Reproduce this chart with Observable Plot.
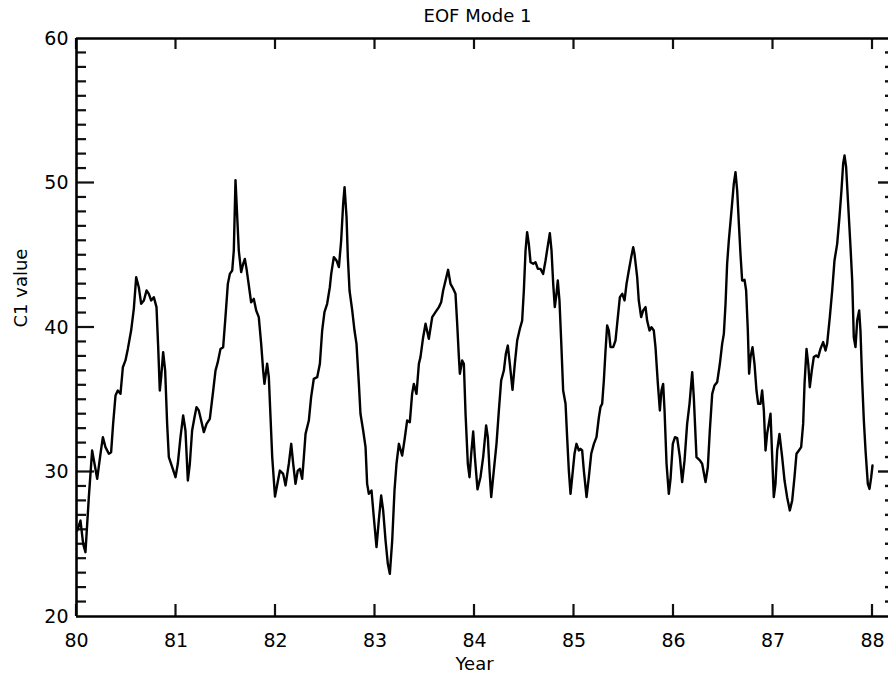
<!DOCTYPE html>
<html><head><meta charset="utf-8">
<script src="https://cdn.jsdelivr.net/npm/d3@7"></script>
<script src="https://cdn.jsdelivr.net/npm/@observablehq/plot@0.6"></script>
<style>body{margin:0;background:#fff;} svg{display:block;} svg text{font-family:"DejaVu Sans",sans-serif;}</style>
</head><body><div id="chart"></div>
<script>
const years = [
80.007,80.040,80.067,80.090,80.124,80.157,80.181,80.208,80.241,80.265,80.291,80.325,80.348,80.368,80.392,80.415,80.442,80.466,80.492,80.516,80.549,80.576,80.600,80.626,80.650,80.677,80.704,80.727,80.750,80.777,80.804,80.821,80.837,80.851,80.871,80.891,80.911,80.928,80.962,80.995,
81.018,81.045,81.072,81.095,81.119,81.139,81.162,81.186,81.206,81.229,81.253,81.280,81.307,81.340,81.374,81.397,81.420,81.447,81.474,81.497,81.521,81.541,81.565,81.581,81.598,81.631,81.655,81.675,81.692,81.709,81.732,81.755,81.782,81.806,81.832,81.856,81.876,81.889,81.916,81.933,81.950,81.967,81.995,
82.044,82.077,82.101,82.134,82.158,82.178,82.201,82.224,82.245,82.268,82.285,82.302,82.335,82.358,82.385,82.419,82.446,82.469,82.492,82.519,82.546,82.560,82.586,82.613,82.637,82.660,82.680,82.694,82.714,82.727,82.744,82.771,82.794,82.814,82.838,82.854,82.881,82.905,82.921,82.938,82.965,82.988,
83.015,83.038,83.062,83.082,83.106,83.129,83.149,83.173,83.196,83.216,83.240,83.273,83.296,83.323,83.350,83.373,83.390,83.417,83.441,83.457,83.484,83.508,83.541,83.575,83.608,83.642,83.665,83.685,83.709,83.735,83.759,83.786,83.809,83.826,83.843,83.853,83.876,83.893,83.910,83.933,83.950,83.967,83.987,
84.003,84.030,84.060,84.087,84.117,84.134,84.151,84.168,84.194,84.221,84.245,84.268,84.295,84.315,84.335,84.355,84.382,84.405,84.429,84.456,84.479,84.496,84.513,84.529,84.546,84.563,84.590,84.613,84.637,84.663,84.690,84.714,84.737,84.757,84.774,84.791,84.807,84.824,84.837,84.854,84.871,84.891,84.915,84.931,84.948,84.965,84.982,
85.005,85.025,85.049,85.065,85.082,85.099,85.126,85.149,85.173,85.200,85.226,85.250,85.266,85.283,85.300,85.317,85.333,85.350,85.367,85.394,85.417,85.434,85.461,85.485,85.508,85.528,85.551,85.575,85.595,85.608,85.635,85.651,85.675,85.695,85.719,85.735,85.759,85.779,85.802,85.819,85.843,85.863,85.879,85.896,85.910,85.930,85.953,85.970,85.993,
86.015,86.037,86.064,86.087,86.111,86.137,86.161,86.188,86.204,86.231,86.265,86.288,86.322,86.345,86.365,86.389,86.412,86.439,86.466,86.489,86.506,86.523,86.539,86.556,86.580,86.606,86.623,86.640,86.657,86.673,86.690,86.714,86.730,86.747,86.760,86.774,86.794,86.814,86.834,86.851,86.874,86.891,86.908,86.925,86.941,86.958,86.975,86.992,
87.008,87.025,87.042,87.065,87.092,87.116,87.142,87.169,87.193,87.216,87.236,87.260,87.283,87.303,87.317,87.337,87.354,87.370,87.390,87.410,87.434,87.454,87.477,87.504,87.528,87.544,87.571,87.595,87.618,87.645,87.668,87.688,87.705,87.719,87.735,87.755,87.779,87.796,87.812,87.829,87.846,87.866,87.879,87.896,87.913,87.930,87.953,87.970,87.987,88.000
];
const c1 = [
25.95,26.64,25.03,24.45,28.26,31.49,30.57,29.53,31.26,32.41,31.72,31.26,31.37,33.33,35.29,35.64,35.41,37.25,37.72,38.52,39.79,41.29,43.48,42.79,41.64,41.87,42.56,42.33,41.87,42.10,41.41,38.64,35.64,36.56,38.29,37.02,33.33,31.03,30.33,29.64,
30.57,32.41,33.91,32.87,29.41,30.57,32.87,33.79,34.49,34.26,33.56,32.76,33.33,33.68,35.64,37.02,37.60,38.52,38.64,40.72,43.02,43.71,43.94,45.33,50.20,45.33,43.83,44.41,44.75,44.06,42.91,41.75,41.98,41.18,40.72,38.87,37.02,36.10,37.49,36.56,33.79,31.03,28.30,
30.10,29.87,29.07,30.57,31.95,30.57,29.18,30.10,30.22,29.53,31.03,32.64,33.56,35.18,36.45,36.56,37.49,39.79,41.06,41.64,42.79,43.71,44.87,44.64,44.18,46.02,48.56,49.71,47.64,44.87,42.56,41.18,39.79,38.87,36.10,34.03,32.87,31.72,29.18,28.49,28.72,26.87,
24.80,26.64,28.37,27.34,25.26,23.65,22.95,25.26,28.72,30.57,31.95,31.14,32.18,33.56,33.45,35.41,36.10,35.41,37.49,37.95,39.33,40.26,39.22,40.72,41.06,41.41,41.75,42.56,43.25,43.99,43.02,42.68,42.33,40.26,37.95,36.80,37.72,37.49,34.03,30.57,29.64,31.26,32.80,
31.10,28.80,29.64,31.03,33.22,32.41,30.10,28.26,30.10,31.95,34.26,36.33,37.02,38.18,38.75,37.49,35.69,37.49,39.10,39.91,40.48,42.56,45.33,46.60,45.79,44.52,44.41,44.52,44.06,44.06,43.71,44.64,45.67,46.53,45.33,43.02,41.41,42.33,43.25,41.87,39.10,35.64,34.72,32.41,30.10,28.49,29.64,
31.26,31.95,31.49,31.60,31.49,30.10,28.26,29.64,31.26,31.95,32.41,33.79,34.49,34.72,36.33,38.41,40.14,39.79,38.64,38.64,39.10,40.26,42.10,42.33,41.87,43.02,43.94,44.87,45.56,45.10,43.48,41.87,40.72,41.18,41.41,40.48,39.79,40.02,39.79,38.64,36.10,34.26,35.64,36.10,34.26,30.57,28.49,29.50,31.95,
32.41,32.35,31.03,29.30,30.80,33.33,34.72,36.91,35.18,31.03,30.80,30.57,29.30,30.33,32.87,35.41,35.99,36.22,37.49,38.87,39.56,41.64,44.41,46.02,47.87,49.94,50.75,49.48,47.18,45.10,43.25,43.30,42.56,39.79,36.80,37.95,38.64,37.49,35.64,34.72,34.72,35.64,34.26,31.49,32.64,33.33,34.03,31.03,
28.26,29.18,31.49,32.64,31.03,29.41,28.26,27.34,28.03,29.64,31.26,31.49,31.72,33.33,36.10,38.52,37.49,35.87,37.02,37.95,38.06,37.95,38.52,38.99,38.41,38.87,40.72,42.56,44.64,45.79,47.64,49.48,51.33,51.90,51.09,48.56,45.56,43.25,39.33,38.64,40.48,41.18,39.79,36.33,33.56,31.49,29.18,28.83,29.64,30.45
];
const xTicks = [80, 81, 82, 83, 84, 85, 86, 87, 88];
const yLabels = [20, 30, 40, 50, 60];
const yMajorInner = [30, 40, 50];
const yMinor = [21,22,23,24,25,26,27,28,29,31,32,33,34,35,36,37,38,39,41,42,43,44,45,46,47,48,49,51,52,53,54,55,56,57,58,59];
const titleText = ["EOF Mode 1"];
const xTitle = ["Year"];
const yTitle = ["C1 value"];

const data = years.map((t, i) => ({t, v: c1[i]}));

const W = 888, H = 674, ML = 76, MR = 0, MT = 38, MB = 58;
const FW = W - ML - MR;
const FH = H - MT - MB;
const xDom = [80, 88.1608], yDom = [20, 60];
const dxPx = (xDom[1] - xDom[0]) / FW;   // data units per pixel
const dyPx = (yDom[1] - yDom[0]) / FH;
const ink = "#111";

const chart = Plot.plot({
  width: W, height: H,
  marginLeft: ML, marginRight: MR, marginTop: MT, marginBottom: MB,
  x: {domain: xDom},
  y: {domain: yDom},
  marks: [
    Plot.axisX(xTicks, {anchor: "bottom", tickSize: 0, tickPadding: 17, label: null, tickFormat: d => String(d), fontSize: 19, fill: "black"}),
    Plot.axisY(yLabels, {anchor: "left", tickSize: 0, tickPadding: 8, label: null, tickFormat: d => String(d), fontSize: 19, fill: "black"}),
    // inward ticks drawn as small filled rectangles
    Plot.rect(yMinor, {x1: xDom[0], x2: xDom[0] + 10 * dxPx, y1: d => d - 1.1 * dyPx, y2: d => d + 1.1 * dyPx, fill: ink}),
    Plot.rect(yMajorInner, {x1: xDom[0], x2: xDom[0] + 18 * dxPx, y1: d => d - 1.1 * dyPx, y2: d => d + 1.1 * dyPx, fill: ink}),
    Plot.rect(xTicks, {x1: d => d - 1.1 * dxPx, x2: d => d + 1.1 * dxPx, y1: yDom[0], y2: yDom[0] + 12 * dyPx, fill: ink}),
    Plot.rect(xTicks, {x1: d => d - 1.1 * dxPx, x2: d => d + 1.1 * dxPx, y1: yDom[1] - 11 * dyPx, y2: yDom[1], fill: ink}),
    Plot.rect(yMinor, {x1: xDom[1] - 3 * dxPx, x2: xDom[1], y1: d => d - 1.2 * dyPx, y2: d => d + 1.2 * dyPx, fill: ink}),
    Plot.rect(yMajorInner, {x1: xDom[1] - 10 * dxPx, x2: xDom[1], y1: d => d - 1.2 * dyPx, y2: d => d + 1.2 * dyPx, fill: ink}),
    // axis lines
    Plot.ruleX([80], {strokeWidth: 2.6, stroke: "black"}),
    Plot.ruleY([20, 60], {strokeWidth: 2.6, stroke: "black"}),
    // data line
    Plot.line(data, {x: "t", y: "v", stroke: "black", strokeWidth: 2.4, strokeLinejoin: "round", strokeLinecap: "round"}),
    // titles
    Plot.text(titleText, {text: d => d, frameAnchor: "top", dx: -5, dy: -22, fontSize: 18, lineAnchor: "middle", fill: "black"}),
    Plot.text(xTitle, {text: d => d, frameAnchor: "bottom", dx: -8, dy: 48, fontSize: 18, lineAnchor: "middle", fill: "black"}),
    Plot.text(yTitle, {text: d => d, frameAnchor: "left", dx: -55, rotate: -90, fontSize: 18, lineAnchor: "middle", fill: "black"})
  ]
});
document.getElementById("chart").appendChild(chart);
</script>
</body></html>
